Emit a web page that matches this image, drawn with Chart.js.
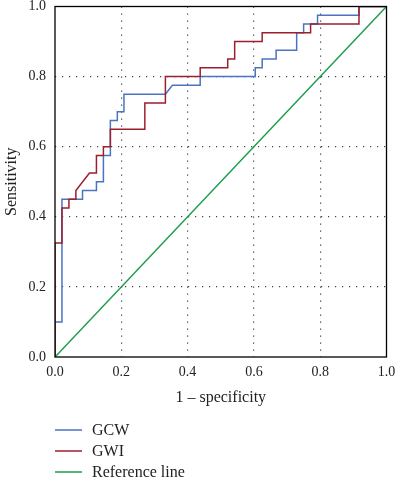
<!DOCTYPE html>
<html>
<head>
<meta charset="utf-8">
<script src="https://cdn.jsdelivr.net/npm/chart.js@4"></script>
<style>
  html, body { margin: 0; padding: 0; background: #fff; }
  #wrap { width: 397px; height: 478px; }
</style>
</head>
<body>
<div id="wrap"><canvas id="roc"></canvas></div>
<script>
// ROC data (1 - specificity, sensitivity)
const gcwFpr = [0, 0, 0.021, 0.021, 0.083, 0.083, 0.125, 0.125, 0.146, 0.146, 0.167, 0.167, 0.188, 0.188, 0.208, 0.208, 0.333, 0.354, 0.438, 0.438, 0.604, 0.604, 0.625, 0.625, 0.667, 0.667, 0.729, 0.729, 0.75, 0.75, 0.792, 0.792, 0.917, 0.917, 1];
const gcwTpr = [0, 0.1, 0.1, 0.45, 0.45, 0.475, 0.475, 0.5, 0.5, 0.575, 0.575, 0.675, 0.675, 0.7, 0.7, 0.75, 0.75, 0.775, 0.775, 0.8, 0.8, 0.825, 0.825, 0.85, 0.85, 0.875, 0.875, 0.925, 0.925, 0.95, 0.95, 0.975, 0.975, 1, 1];

const gwiFpr = [0, 0, 0.021, 0.021, 0.042, 0.042, 0.063, 0.063, 0.104, 0.125, 0.125, 0.146, 0.146, 0.167, 0.167, 0.271, 0.271, 0.333, 0.333, 0.438, 0.438, 0.521, 0.521, 0.542, 0.542, 0.625, 0.625, 0.771, 0.771, 0.917, 0.917, 1];
const gwiTpr = [0, 0.325, 0.325, 0.425, 0.425, 0.45, 0.45, 0.475, 0.525, 0.525, 0.575, 0.575, 0.6, 0.6, 0.65, 0.65, 0.725, 0.725, 0.8, 0.8, 0.825, 0.825, 0.85, 0.85, 0.9, 0.9, 0.925, 0.925, 0.95, 0.95, 1, 1];

const refFpr = [0, 1];
const refTpr = [0, 1];

const seriesNames = ["GCW", "GWI", "Reference line"];
const seriesColors = ["#4a73c2", "#9c1f2e", "#1c9e4c"];
const tickValues = [0, 0.2, 0.4, 0.6, 0.8, 1];

const serif = "'Liberation Serif', 'DejaVu Serif', serif";

function pts(xs, ys) {
  return xs.map((x, i) => ({ x: x, y: ys[i] }));
}

// box around the plot + vertical legend under the axis title
const framePlugin = {
  id: "frame",
  afterDatasetsDraw(chart) {
    const { ctx, chartArea: a } = chart;
    ctx.save();
    ctx.strokeStyle = "#000";
    ctx.lineWidth = 1.3;
    ctx.strokeRect(a.left, a.top, a.right - a.left, a.bottom - a.top);
    ctx.restore();
  },
  afterDraw(chart) {
    const ctx = chart.ctx;
    ctx.save();
    ctx.font = "16px " + serif;
    ctx.textBaseline = "middle";
    ctx.fillStyle = "#222";
    seriesNames.forEach((name, i) => {
      const y = 430 + i * 21;
      ctx.strokeStyle = seriesColors[i];
      ctx.lineWidth = 1.5;
      ctx.beginPath();
      ctx.moveTo(55, y);
      ctx.lineTo(82, y);
      ctx.stroke();
      ctx.fillText(name, 92, y + 1);
    });
    ctx.restore();
  }
};

const gridColor = (c) => (c.tick && (c.tick.value === 0 || c.tick.value === 1)) ? "rgba(0,0,0,0)" : "#444";

new Chart(document.getElementById("roc"), {
  type: "scatter",
  data: {
    datasets: [
      { label: seriesNames[0], data: pts(gcwFpr, gcwTpr), showLine: true, borderColor: seriesColors[0], borderWidth: 1.5, pointRadius: 0, order: 1 },
      { label: seriesNames[1], data: pts(gwiFpr, gwiTpr), showLine: true, borderColor: seriesColors[1], borderWidth: 1.5, pointRadius: 0, order: 0 },
      { label: seriesNames[2], data: pts(refFpr, refTpr), showLine: true, borderColor: seriesColors[2], borderWidth: 1.5, pointRadius: 0, order: 2 }
    ]
  },
  options: {
    responsive: true,
    maintainAspectRatio: false,
    animation: false,
    layout: { padding: { left: 0, right: 10.5, top: 6.5, bottom: 70 } },
    plugins: { legend: { display: false }, tooltip: { enabled: false } },
    scales: {
      x: {
        type: "linear",
        min: 0,
        max: 1,
        afterBuildTicks: (s) => { s.ticks = tickValues.map(v => ({ value: v })); },
        afterFit: (s) => { s.height = 51; s.paddingLeft = 0; s.paddingRight = 0; },
        ticks: { color: "#222", font: { family: serif, size: 14 }, padding: 7, maxRotation: 0, callback: (v) => v.toFixed(1) },
        grid: { color: gridColor, lineWidth: 1.2, drawTicks: false, tickLength: 0 },
        border: { display: false, dash: [1.2, 5.8] },
        title: { display: true, text: "1 \u2013 specificity", color: "#222", font: { family: serif, size: 16 }, padding: { top: 0, bottom: 1 } }
      },
      y: {
        type: "linear",
        min: 0,
        max: 1,
        afterBuildTicks: (s) => { s.ticks = tickValues.map(v => ({ value: v })); },
        afterFit: (s) => { s.width = 55; s.paddingTop = 0; s.paddingBottom = 0; },
        ticks: { color: "#222", font: { family: serif, size: 14 }, padding: 9, callback: (v) => v.toFixed(1) },
        grid: { color: gridColor, lineWidth: 1.2, drawTicks: false, tickLength: 0 },
        border: { display: false, dash: [1.2, 5.8] },
        title: { display: true, text: "Sensitivity", color: "#222", font: { family: serif, size: 16 }, padding: { top: 2, bottom: 0 } }
      }
    }
  },
  plugins: [framePlugin]
});
</script>
</body>
</html>
